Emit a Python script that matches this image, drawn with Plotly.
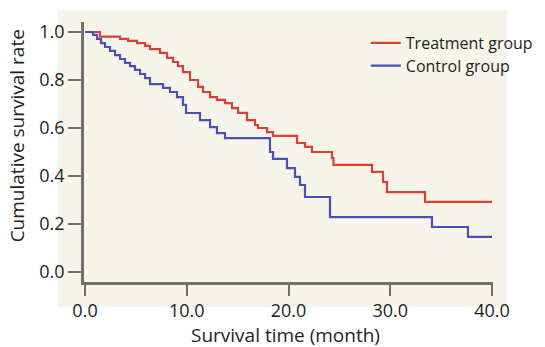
import plotly.graph_objects as go

# Kaplan-Meier step data (time in months, cumulative survival)
treat_time = [0, 1.47, 3.44, 4.23, 5.11, 5.90, 6.39, 7.37, 8.06, 8.65, 9.14, 9.63, 10.32, 11.11,
              11.60, 12.29, 12.97, 13.76, 14.45, 15.04, 15.92, 16.71, 17.0, 17.89, 18.48, 20.84,
              21.62, 22.31, 24.27, 24.42, 28.21, 29.29, 29.68, 33.42, 40.0]
treat_surv = [1.0, 0.981, 0.971, 0.963, 0.954, 0.942, 0.929, 0.913, 0.892, 0.875, 0.858, 0.833, 0.80, 0.771,
              0.75, 0.729, 0.717, 0.704, 0.683, 0.663, 0.633, 0.6125, 0.60, 0.583, 0.567, 0.5375,
              0.521, 0.50, 0.475, 0.446, 0.417, 0.375, 0.333, 0.292, 0.292]

ctrl_time = [0, 0.79, 1.18, 1.57, 1.97, 2.46, 2.95, 3.44, 3.93, 4.42, 4.91, 5.41, 5.90, 6.39, 7.67,
             8.35, 9.04, 9.63, 9.93, 11.30, 12.29, 12.97, 13.76, 18.18, 18.48, 19.85, 20.64, 21.13,
             21.62, 24.08, 34.10, 37.64, 40.0]
ctrl_surv = [1.0, 0.988, 0.971, 0.954, 0.9375, 0.921, 0.904, 0.8875, 0.871, 0.858, 0.842, 0.825, 0.808,
             0.783, 0.767, 0.75, 0.729, 0.696, 0.6625, 0.633, 0.604, 0.579, 0.558, 0.50, 0.471, 0.433,
             0.396, 0.3625, 0.3125, 0.229, 0.1875, 0.146, 0.146]

x_ticks = [0, 10, 20, 30, 40]
x_tick_labels = ["0.0", "10.0", "20.0", "30.0", "40.0"]
y_ticks = [0, 0.2, 0.4, 0.6, 0.8, 1.0]
y_tick_labels = ["0.0", "0.2", "0.4", "0.6", "0.8", "1.0"]

FONT = "Open Sans"
RED = "#dc3f36"
BLUE = "#4b4fb8"
AXIS = "#707070"
TXT = "#231f20"

fig = go.Figure()
fig.add_trace(go.Scatter(x=treat_time, y=treat_surv, mode="lines", line_shape="hv",
                         line=dict(color=RED, width=2.2), name="Treatment group", legend="legend"))
fig.add_trace(go.Scatter(x=ctrl_time, y=ctrl_surv, mode="lines", line_shape="hv",
                         line=dict(color=BLUE, width=2.2), name="Control group", legend="legend2"))

fig.add_shape(type="rect", xref="paper", yref="paper", x0=-0.0636, x1=1.034, y0=-0.096, y1=1.046,
              fillcolor="#f7f5ea", line=dict(width=0), layer="below")

fig.add_annotation(text="Cumulative survival rate", xref="paper", yref="paper",
                   x=-0.163, y=0.5615, xanchor="center", yanchor="middle", textangle=-90,
                   showarrow=False, font=dict(family=FONT, size=19, color=TXT))
fig.add_annotation(text="Survival time (month)", xref="x", yref="paper",
                   x=19.7, y=-0.205, xanchor="center", yanchor="middle",
                   showarrow=False, font=dict(family=FONT, size=19, color=TXT))

leg_common = dict(xanchor="left", yanchor="top", bgcolor="rgba(0,0,0,0)",
                  font=dict(family=FONT, size=16, color=TXT), itemwidth=30)

fig.update_layout(
    width=545, height=347,
    margin=dict(l=84, r=52, t=22, b=65, autoexpand=False),
    paper_bgcolor="white", plot_bgcolor="rgba(0,0,0,0)",
    font=dict(family=FONT, size=16, color=TXT),
    showlegend=True,
    legend=dict(x=0.689, y=0.985, **leg_common),
    legend2=dict(x=0.689, y=0.897, **leg_common),
    xaxis=dict(range=[-0.1, 40.1], tickvals=x_ticks, ticktext=x_tick_labels,
               showgrid=False, zeroline=False, showline=True, linecolor=AXIS, linewidth=2.5,
               ticks="outside", ticklen=11, tickwidth=2, tickcolor=AXIS,
               tickfont=dict(family=FONT, size=18, color=TXT)),
    yaxis=dict(range=[-0.0417, 1.0417], tickvals=y_ticks, ticktext=y_tick_labels,
               showgrid=False, zeroline=False, showline=True, linecolor=AXIS, linewidth=2.5,
               ticks="outside", ticklen=13, tickwidth=2, tickcolor=AXIS,
               tickfont=dict(family=FONT, size=18, color=TXT)),
)

fig.write_html("out.html", config={"displayModeBar": False},
               post_script="document.body.style.margin='0';document.body.style.padding='0';")
